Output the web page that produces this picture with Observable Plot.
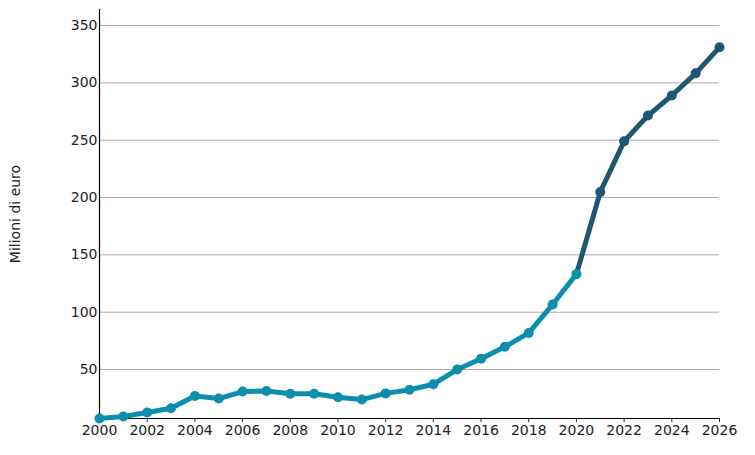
<!DOCTYPE html>
<html>
<head>
<meta charset="utf-8">
<script src="https://cdn.jsdelivr.net/npm/d3@7"></script>
<script src="https://cdn.jsdelivr.net/npm/@observablehq/plot@0.6"></script>
<style>
  html, body { margin: 0; padding: 0; background: #fff; }
  svg { font-family: "DejaVu Sans", sans-serif; }
</style>
</head>
<body>
<div id="chart"></div>
<script>
const histYears = [2000,2001,2002,2003,2004,2005,2006,2007,2008,2009,2010,2011,2012,2013,2014,2015,2016,2017,2018,2019,2020];
const histValues = [7.3,9.0,12.5,16.2,26.9,24.7,30.8,31.3,28.9,28.9,25.8,23.8,29.2,32.4,37.2,50.0,59.4,69.8,81.9,106.7,133.2];
const foreYears = [2020,2021,2022,2023,2024,2025,2026];
const foreValues = [133.2,204.8,249.0,271.5,289.0,308.3,331.0];
const yTicks = [50,100,150,200,250,300,350];
const xTicks = [2000,2002,2004,2006,2008,2010,2012,2014,2016,2018,2020,2022,2024,2026];
const yLabel = "Milioni di euro";

const hist = histYears.map((x, i) => ({x, y: histValues[i]}));
const fore = foreYears.map((x, i) => ({x, y: foreValues[i]}));
const yMin = d3.min(histValues);
const histColor = "#0b8fad";
const foreColor = "#1f5671";

const chart = Plot.plot({
  width: 755,
  height: 455,
  marginLeft: 99,
  marginRight: 36,
  marginTop: 9,
  marginBottom: 37,
  style: {fontFamily: "DejaVu Sans, sans-serif", fontSize: "14px", color: "#222"},
  x: {domain: [2000, 2026]},
  y: {domain: [yMin, 364]},
  marks: [
    Plot.gridY(yTicks, {stroke: "#aaaaaa", strokeOpacity: 1, strokeWidth: 1}),
    Plot.axisY(yTicks, {tickSize: 0, tickPadding: 2, fontSize: 14, label: yLabel, labelAnchor: "center", labelOffset: 89, labelArrow: "none"}),
    Plot.axisX(xTicks, {tickSize: 4, tickPadding: 3, fontSize: 14, tickFormat: d => String(d), label: null}),
    Plot.ruleX([2000], {stroke: "#000", strokeWidth: 1.2}),
    Plot.ruleY([yMin], {stroke: "#000", strokeWidth: 1.2}),
    Plot.line(fore, {x: "x", y: "y", stroke: foreColor, strokeWidth: 5}),
    Plot.dot(fore.slice(1), {x: "x", y: "y", fill: foreColor, r: 5}),
    Plot.line(hist, {x: "x", y: "y", stroke: histColor, strokeWidth: 5}),
    Plot.dot(hist, {x: "x", y: "y", fill: histColor, r: 5})
  ]
});
document.getElementById("chart").appendChild(chart);
</script>
</body>
</html>
